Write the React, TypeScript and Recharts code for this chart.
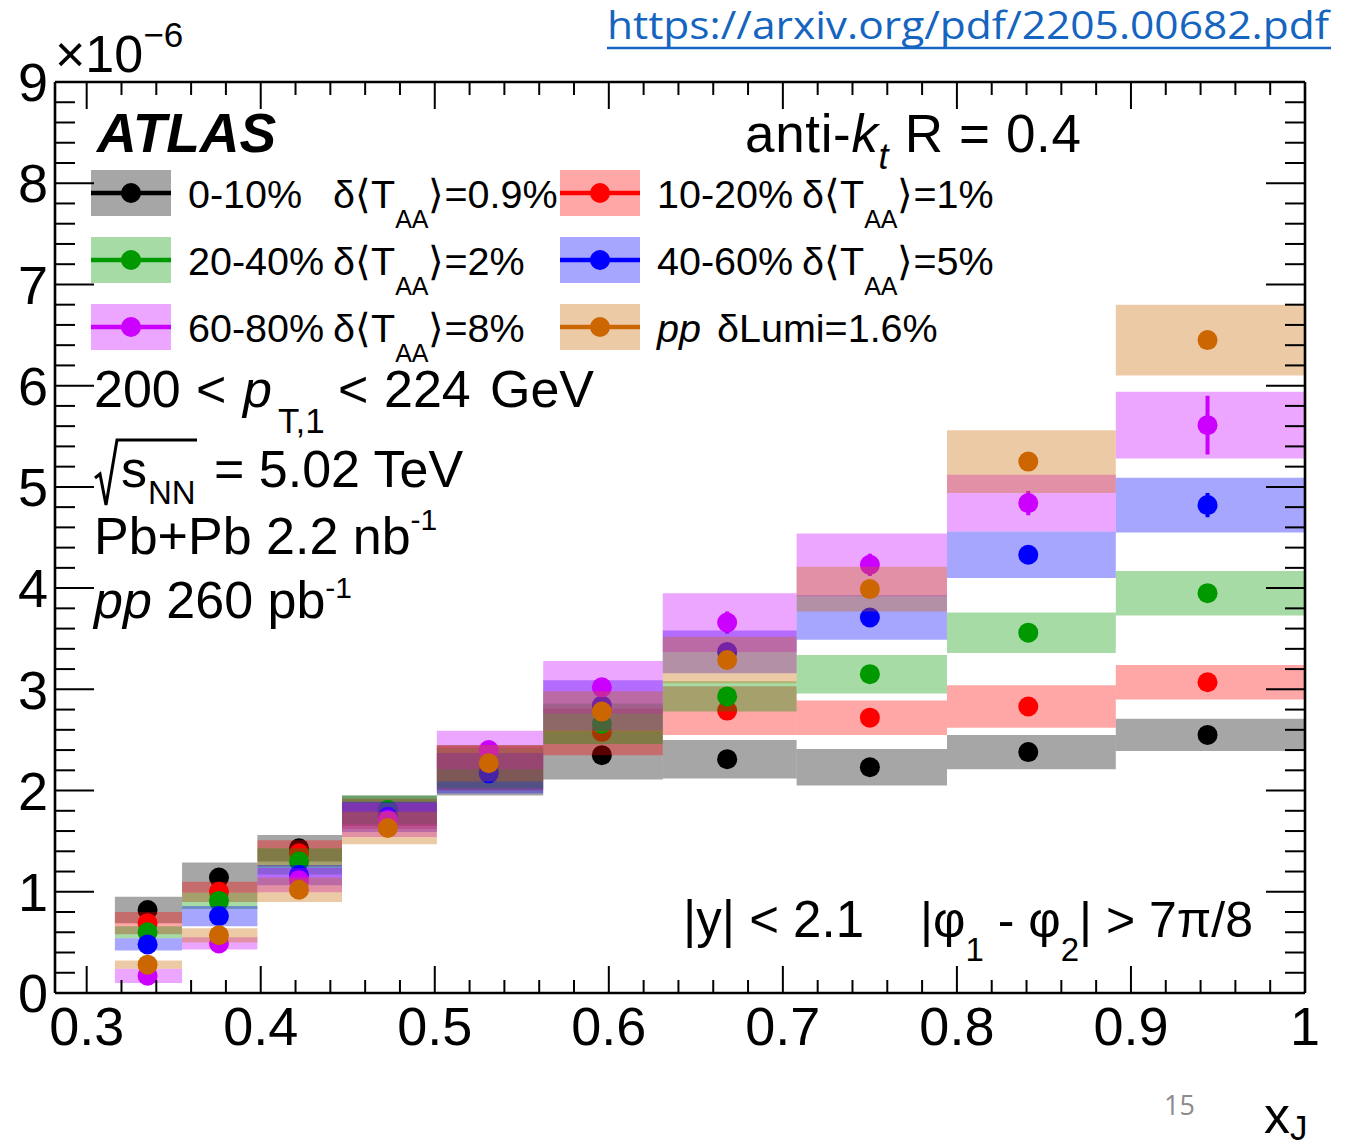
import React from 'react';
import { ComposedChart, Scatter, XAxis, YAxis, ReferenceArea, ErrorBar } from 'recharts';

// ---------------- data ----------------
const binEdges = [0.3162, 0.3548, 0.3981, 0.4467, 0.5012, 0.5623, 0.631, 0.7079, 0.7943, 0.8913, 1.0];
const binCenters = [0.335, 0.376, 0.422, 0.473, 0.531, 0.596, 0.668, 0.75, 0.841, 0.944];

const seriesNames = ['0-10%', '10-20%', '20-40%', '40-60%', '60-80%', 'pp'];
const seriesColors = ['#000000', '#ff0000', '#009900', '#0000ff', '#cc00ff', '#cc6600'];
const seriesUnc = ['0.9%', '1%', '2%', '5%', '8%', '1.6%'];

// values in units of 1e-6
const val0to10 = [0.82, 1.14, 1.43, 1.8, 2.2, 2.35, 2.31, 2.23, 2.38, 2.55];
const sys0to10 = [0.13, 0.15, 0.13, 0.15, 0.25, 0.24, 0.19, 0.18, 0.17, 0.16];
const stat0to10 = [0.02, 0.02, 0.02, 0.03, 0.03, 0.03, 0.03, 0.03, 0.03, 0.04];

const val10to20 = [0.69, 1.0, 1.38, 1.77, 2.22, 2.58, 2.79, 2.72, 2.83, 3.07];
const sys10to20 = [0.11, 0.1, 0.13, 0.15, 0.22, 0.23, 0.24, 0.17, 0.21, 0.17];
const stat10to20 = [0.02, 0.02, 0.02, 0.03, 0.03, 0.03, 0.04, 0.04, 0.04, 0.05];

const val20to40 = [0.6, 0.91, 1.3, 1.81, 2.22, 2.66, 2.93, 3.15, 3.56, 3.95];
const sys20to40 = [0.06, 0.08, 0.13, 0.14, 0.2, 0.2, 0.15, 0.19, 0.2, 0.22];
const stat20to40 = [0.02, 0.02, 0.02, 0.03, 0.03, 0.03, 0.04, 0.04, 0.05, 0.06];

const val40to60 = [0.48, 0.76, 1.165, 1.74, 2.17, 2.84, 3.37, 3.71, 4.33, 4.82];
const sys40to60 = [0.06, 0.1, 0.1, 0.15, 0.2, 0.25, 0.21, 0.22, 0.23, 0.27];
const stat40to60 = [0.02, 0.02, 0.03, 0.03, 0.04, 0.04, 0.05, 0.05, 0.07, 0.12];

const val60to80 = [0.17, 0.49, 1.115, 1.71, 2.4, 3.02, 3.66, 4.23, 4.84, 5.61];
const sys60to80 = [0.07, 0.06, 0.12, 0.17, 0.19, 0.26, 0.29, 0.31, 0.28, 0.33];
const stat60to80 = [0.03, 0.03, 0.04, 0.05, 0.06, 0.08, 0.11, 0.11, 0.12, 0.29];

const valPP = [0.28, 0.57, 1.02, 1.63, 2.27, 2.78, 3.29, 3.99, 5.25, 6.45];
const sysPP = [0.04, 0.07, 0.12, 0.16, 0.18, 0.2, 0.23, 0.22, 0.31, 0.35];
const statPP = [0.01, 0.01, 0.01, 0.02, 0.02, 0.02, 0.03, 0.03, 0.04, 0.05];

const xDomain = [0.2818, 1.0];
const yDomain = [0, 9];
const xMajorTicks = [0.3, 0.4, 0.5, 0.6, 0.7, 0.8, 0.9, 1.0];
const xMinorTicks = [0.3, 0.32, 0.34, 0.36, 0.38, 0.4, 0.42, 0.44, 0.46, 0.48, 0.5, 0.52, 0.54, 0.56, 0.58, 0.6, 0.62, 0.64, 0.66, 0.68, 0.7, 0.72, 0.74, 0.76, 0.78, 0.8, 0.82, 0.84, 0.86, 0.88, 0.9, 0.92, 0.94, 0.96, 0.98, 1.0];
const yMajorTicks = [0, 1, 2, 3, 4, 5, 6, 7, 8, 9];
const yMinorTicks = [0, 0.2, 0.4, 0.6, 0.8, 1, 1.2, 1.4, 1.6, 1.8, 2, 2.2, 2.4, 2.6, 2.8, 3, 3.2, 3.4, 3.6, 3.8, 4, 4.2, 4.4, 4.6, 4.8, 5, 5.2, 5.4, 5.6, 5.8, 6, 6.2, 6.4, 6.6, 6.8, 7, 7.2, 7.4, 7.6, 7.8, 8, 8.2, 8.4, 8.6, 8.8, 9];

const allValues = [val0to10, val10to20, val20to40, val40to60, val60to80, valPP];
const allSys = [sys0to10, sys10to20, sys20to40, sys40to60, sys60to80, sysPP];
const allStat = [stat0to10, stat10to20, stat20to40, stat40to60, stat60to80, statPP];

const series = seriesNames.map((name, si) => ({
  name,
  color: seriesColors[si],
  points: binCenters.map((x, i) => ({ x, y: allValues[si][i], stat: allStat[si][i] })),
  boxes: binCenters.map((_, i) => ({
    x1: binEdges[i],
    x2: binEdges[i + 1],
    y1: allValues[si][i] - allSys[si][i],
    y2: allValues[si][i] + allSys[si][i],
  })),
}));

// ---------------- style ----------------
const FONT = "'Liberation Sans', Arial, Helvetica, sans-serif";
const W = 1347;
const H = 1145;
const BOX_ALPHA = 0.35;
const X_MAJOR_LEN = 27;
const X_MINOR_LEN = 13;
const Y_MAJOR_LEN = 39;
const Y_MINOR_LEN = 20;

const isMajorX = (v: number) => xMajorTicks.some((m) => Math.abs(m - v) < 1e-6);
const isMajorY = (v: number) => yMajorTicks.some((m) => Math.abs(m - v) < 1e-6);
const fmt = (v: number) => String(Math.round(v * 10) / 10);

function BottomTick(props: any) {
  const { x, y, payload } = props;
  const major = isMajorX(payload.value);
  return (
    <g>
      <line x1={x} x2={x} y1={y} y2={y - (major ? X_MAJOR_LEN : X_MINOR_LEN)} stroke="#000" strokeWidth={2} />
      {major && (
        <text x={x} y={y + 14} dy="0.71em" textAnchor="middle" fontSize={54} fontFamily={FONT} fill="#000">
          {fmt(payload.value)}
        </text>
      )}
    </g>
  );
}

function TopTick(props: any) {
  const { x, y, payload } = props;
  const major = isMajorX(payload.value);
  return <line x1={x} x2={x} y1={y} y2={y + (major ? X_MAJOR_LEN : X_MINOR_LEN)} stroke="#000" strokeWidth={2} />;
}

function LeftTick(props: any) {
  const { x, y, payload } = props;
  const major = isMajorY(payload.value);
  return (
    <g>
      <line x1={x} x2={x + (major ? Y_MAJOR_LEN : Y_MINOR_LEN)} y1={y} y2={y} stroke="#000" strokeWidth={2} />
      {major && (
        <text x={x - 7} y={y} dy="0.355em" textAnchor="end" fontSize={54} fontFamily={FONT} fill="#000">
          {fmt(payload.value)}
        </text>
      )}
    </g>
  );
}

function RightTick(props: any) {
  const { x, y, payload } = props;
  const major = isMajorY(payload.value);
  return <line x1={x} x2={x - (major ? Y_MAJOR_LEN : Y_MINOR_LEN)} y1={y} y2={y} stroke="#000" strokeWidth={2} />;
}

function Legend() {
  const colX = [91, 560];
  const rowY0 = 170;
  const rowDY = 67;
  const boxW = 80;
  const boxH = 46;
  const fs = 39.5;
  return (
    <g>
      {series.map((s, i) => {
        const row = Math.floor(i / 2);
        const col = i % 2;
        const bx = colX[col];
        const by = rowY0 + row * rowDY;
        const tx = bx + 97;
        const base = by + 38;
        return (
          <g key={s.name}>
            <rect x={bx} y={by} width={boxW} height={boxH} fill={s.color} fillOpacity={BOX_ALPHA} />
            <line x1={bx} x2={bx + boxW} y1={by + boxH / 2} y2={by + boxH / 2} stroke={s.color} strokeWidth={4.5} />
            <circle cx={bx + boxW / 2} cy={by + boxH / 2} r={10} fill={s.color} />
            {s.name === 'pp' ? (
              <>
                <text x={tx} y={base} fontSize={fs} fontStyle="italic">pp</text>
                <text x={tx + 60} y={base} fontSize={fs}>δLumi={seriesUnc[i]}</text>
              </>
            ) : (
              <>
                <text x={tx} y={base} fontSize={fs}>{s.name}</text>
                <text x={tx + 145} y={base} fontSize={fs}>
                  δ⟨T<tspan dy={20} fontSize={25}>AA</tspan><tspan dy={-20}>⟩={seriesUnc[i]}</tspan>
                </text>
              </>
            )}
          </g>
        );
      })}
    </g>
  );
}

function Overlay() {
  return (
    <svg width={W} height={H} style={{ position: 'absolute', left: 0, top: 0, pointerEvents: 'none' }} fontFamily={FONT} fill="#000">
      {/* link */}
      <text x={607} y={39} fontSize={38} fill="#1565c0" fontFamily="'Open Sans', sans-serif" textLength={722} lengthAdjust="spacingAndGlyphs">https://arxiv.org/pdf/2205.00682.pdf</text>
      <line x1={607} x2={1331} y1={48} y2={48} stroke="#1565c0" strokeWidth={2.5} />
      {/* exponent */}
      <text x={55} y={72} fontSize={52}>×10<tspan dy={-25} fontSize={35}>−6</tspan></text>
      {/* ATLAS */}
      <text x={97} y={152} fontSize={55} fontWeight="bold" fontStyle="italic">ATLAS</text>
      <text x={745} y={152} fontSize={53} textLength={336} lengthAdjust="spacing">
        anti-<tspan fontStyle="italic">k</tspan><tspan dy={17} fontSize={36} fontStyle="italic">t</tspan><tspan dy={-17}>{' R = 0.4'}</tspan>
      </text>
      <Legend />
      {/* kinematics */}
      <text x={94} y={407} fontSize={52}>200</text>
      <text x={196} y={407} fontSize={52}>&lt;</text>
      <text x={243} y={407} fontSize={52} fontStyle="italic">p</text>
      <text x={278} y={433} fontSize={35}>T,1</text>
      <text x={338} y={407} fontSize={52}>&lt;</text>
      <text x={384} y={407} fontSize={52}>224</text>
      <text x={490} y={407} fontSize={52}>GeV</text>

      <path d="M 95 478 L 100 474 L 106 505 L 117 440 L 197 440" fill="none" stroke="#000" strokeWidth={3} />
      <text x={121} y={487} fontSize={52}>s</text>
      <text x={148} y={504} fontSize={33}>NN</text>
      <text x={214} y={487} fontSize={52}>= 5.02 TeV</text>

      <text x={94} y={554} fontSize={52}>Pb+Pb 2.2 nb<tspan dy={-24} fontSize={30}>-1</tspan></text>
      <text x={94} y={618} fontSize={52}>
        <tspan fontStyle="italic">pp</tspan>{' 260 pb'}<tspan dy={-20} fontSize={30}>-1</tspan>
      </text>

      <text x={683} y={937} fontSize={51}>|y| &lt; 2.1</text>
      <text x={920} y={937} fontSize={50}>
        |φ<tspan dy={24} fontSize={33}>1</tspan><tspan dy={-24}>{' - φ'}</tspan><tspan dy={24} fontSize={33}>2</tspan><tspan dy={-24}>{'| > 7π/8'}</tspan>
      </text>

      {/* axis title */}
      <text x={1264} y={1133} fontSize={52}>x</text>
      <text x={1290} y={1140} fontSize={35}>J</text>
      {/* page number */}
      <text x={1164} y={1115} fontSize={27} fill="#8c8c8c" fontFamily="'Open Sans', sans-serif">15</text>
    </svg>
  );
}

const frameStyle = { stroke: '#000', strokeWidth: 2.6 };

export default function App() {
  return (
    <div style={{ position: 'absolute', left: 0, top: 0, width: W, height: H, background: '#fff' }}>
      <ComposedChart width={W} height={H} margin={{ top: 82, right: 42, bottom: 92, left: 5 }}>
        <XAxis
          xAxisId="x" type="number" dataKey="x" domain={xDomain} allowDataOverflow
          ticks={xMinorTicks} interval={0} tickLine={false} tickSize={0} tickMargin={0} height={60}
          axisLine={frameStyle} tick={BottomTick} zIndex={900}
        />
        <XAxis
          xAxisId="xTop" orientation="top" mirror type="number" dataKey="x" domain={xDomain} allowDataOverflow
          ticks={xMinorTicks} interval={0} tickLine={false} tickSize={0} tickMargin={0}
          axisLine={frameStyle} tick={TopTick} zIndex={900}
        />
        <YAxis
          yAxisId="y" type="number" dataKey="y" domain={yDomain} allowDataOverflow
          ticks={yMinorTicks} interval={0} tickLine={false} tickSize={0} tickMargin={0} width={50}
          axisLine={frameStyle} tick={LeftTick} zIndex={900}
        />
        <YAxis
          yAxisId="yRight" orientation="right" mirror type="number" dataKey="y" domain={yDomain} allowDataOverflow
          ticks={yMinorTicks} interval={0} tickLine={false} tickSize={0} tickMargin={0}
          axisLine={frameStyle} tick={RightTick} zIndex={900}
        />

        {series.map((s, si) => (
          <React.Fragment key={s.name}>
            {s.boxes.map((b, bi) => (
              <ReferenceArea
                key={`${s.name}-box-${bi}`}
                xAxisId="x" yAxisId="y"
                x1={b.x1} x2={b.x2} y1={b.y1} y2={b.y2}
                fill={s.color} fillOpacity={BOX_ALPHA} stroke="none"
                ifOverflow="visible"
                zIndex={601 + si * 2}
              />
            ))}
            <Scatter
              name={s.name}
              data={s.points}
              xAxisId="x" yAxisId="y"
              isAnimationActive={false}
              zIndex={602 + si * 2}
              shape={(p: any) => <circle cx={p.cx} cy={p.cy} r={10} fill={s.color} />}
            >
              <ErrorBar dataKey="stat" direction="y" width={0} stroke={s.color} strokeWidth={4} isAnimationActive={false} />
            </Scatter>
          </React.Fragment>
        ))}
        {/* hidden carrier so the top/right frame axes get their scales */}
        <Scatter
          data={series[0].points}
          xAxisId="xTop" yAxisId="yRight"
          isAnimationActive={false}
          shape={() => <g />}
        />
      </ComposedChart>
      <Overlay />
    </div>
  );
}
